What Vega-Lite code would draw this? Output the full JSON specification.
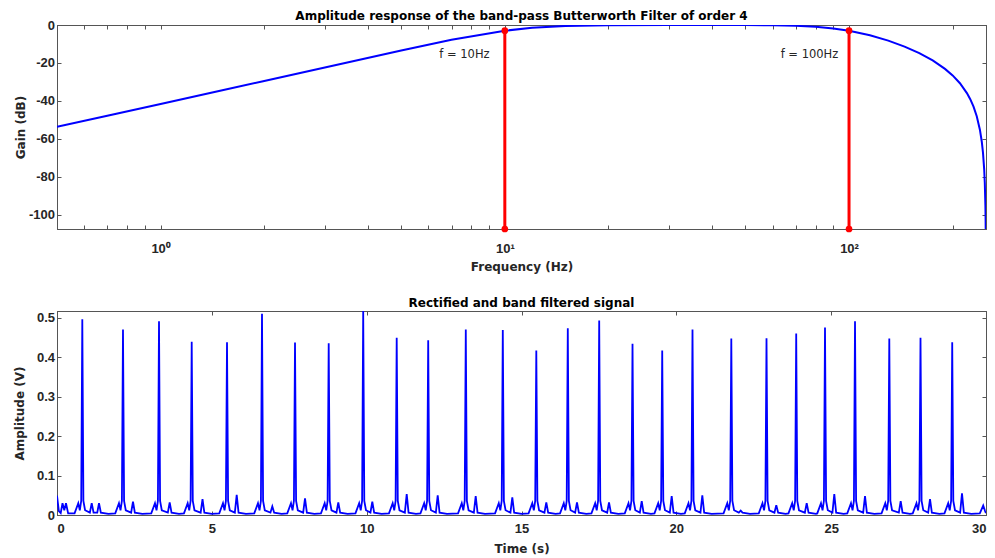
{
  "$schema": "https://vega.github.io/schema/vega-lite/v6.json",
  "autosize": {"type": "pad"},
  "padding": {"left": 12, "top": 9, "right": 5, "bottom": 5},
  "bounds": "flush",
  "spacing": 82,
  "config": {
    "view": {"stroke": "#555555", "strokeWidth": 1},
    "font": "DejaVu Sans",
    "axis": {
      "labelFont": "Liberation Sans", "labelFontWeight": "bold", "labelFontSize": 13, "labelColor": "#262626",
      "titleFont": "DejaVu Sans", "titleFontWeight": "bold", "titleFontSize": 12, "titleColor": "#262626",
      "domainColor": "#555555", "tickColor": "#555555", "tickSize": -4, "grid": false, "labelPadding": 6.5
    },
    "title": {"font": "DejaVu Sans", "fontWeight": "bold", "fontSize": 12, "color": "#000000"}
  },
  "vconcat": [
    {
      "title": {"text": "Amplitude response of the band-pass Butterworth Filter of order 4", "offset": -4},
      "width": 929,
      "height": 204,
      "layer": [
        {
          "data": {"values": [
            {"f": 0.5, "g": -53.63}, {"f": 0.7, "g": -47.79}, {"f": 1, "g": -41.58}, {"f": 1.5, "g": -34.52},
            {"f": 2, "g": -29.5}, {"f": 3, "g": -22.4}, {"f": 5, "g": -13.45}, {"f": 7, "g": -7.81},
            {"f": 10, "g": -3.01}, {"f": 12, "g": -1.48}, {"f": 15, "g": -0.49}, {"f": 20, "g": -0.07},
            {"f": 30, "g": 0}, {"f": 40, "g": 0}, {"f": 50, "g": -0.03}, {"f": 60, "g": -0.14},
            {"f": 70, "g": -0.42}, {"f": 80, "g": -0.95}, {"f": 90, "g": -1.81}, {"f": 100, "g": -3.01},
            {"f": 115, "g": -5.37}, {"f": 130, "g": -8.21}, {"f": 145, "g": -11.38}, {"f": 160, "g": -14.84},
            {"f": 175, "g": -18.69}, {"f": 190, "g": -23.12}, {"f": 200, "g": -26.58}, {"f": 210, "g": -30.69},
            {"f": 220, "g": -35.88}, {"f": 225, "g": -39.11}, {"f": 230, "g": -43.05}, {"f": 235, "g": -48.09},
            {"f": 240, "g": -55.17}, {"f": 243, "g": -61.38}, {"f": 245, "g": -67.23}, {"f": 247, "g": -76.11},
            {"f": 248, "g": -83.15}, {"f": 249, "g": -95.2}, {"f": 249.3, "g": -101.39}, {"f": 249.5, "g": -107.24},
            {"f": 249.7, "g": -116.11}, {"f": 249.8, "g": -123.15}
          ]},
          "mark": {"type": "line", "color": "#0000ff", "strokeWidth": 2, "clip": true},
          "encoding": {
            "x": {"field": "f", "type": "quantitative",
                  "scale": {"type": "log", "domain": [0.5, 250], "nice": false},
                  "axis": {"title": "Frequency (Hz)", "titleY": 37, "titleBaseline": "middle",
                           "values": [0.5, 0.6, 0.7, 0.8, 0.9, 1, 2, 3, 4, 5, 6, 7, 8, 9, 10, 20, 30, 40, 50, 60, 70, 80, 90, 100, 200],
                           "labelExpr": "datum.value == 1 ? '10⁰' : datum.value == 10 ? '10¹' : datum.value == 100 ? '10²' : ''",
                           "labelOverlap": false, "labelPadding": 17}},
            "y": {"field": "g", "type": "quantitative",
                  "scale": {"domain": [-107.5, 0], "nice": false, "zero": false},
                  "axis": {"title": "Gain (dB)", "titleX": -37, "titleBaseline": "middle",
                           "values": [0, -20, -40, -60, -80, -100],
                           "labelExpr": "datum.value < 0 ? '-' + format(-datum.value, 'd') : format(datum.value, 'd')"}}
          }
        },
        {
          "data": {"values": [{"f": 10, "g0": -107.5, "g1": -3.01}, {"f": 100, "g0": -107.5, "g1": -3.01}]},
          "mark": {"type": "rule", "color": "#ff0000", "strokeWidth": 3},
          "encoding": {
            "x": {"field": "f", "type": "quantitative",
                  "axis": {"orient": "top", "labels": false, "title": null,
                           "values": [0.5, 0.6, 0.7, 0.8, 0.9, 1, 2, 3, 4, 5, 6, 7, 8, 9, 10, 20, 30, 40, 50, 60, 70, 80, 90, 100, 200]}},
            "y": {"field": "g0", "type": "quantitative",
                  "axis": {"orient": "right", "labels": false, "title": null, "values": [0, -20, -40, -60, -80, -100]}},
            "y2": {"field": "g1"}
          }
        },
        {
          "data": {"values": [{"f": 10, "g": -107.5}, {"f": 10, "g": -3.01}, {"f": 100, "g": -107.5}, {"f": 100, "g": -3.01}]},
          "mark": {"type": "point", "filled": true, "color": "#ff0000", "size": 45, "opacity": 1},
          "encoding": {
            "x": {"field": "f", "type": "quantitative", "axis": null},
            "y": {"field": "g", "type": "quantitative", "axis": null}
          }
        },
        {
          "data": {"values": [{"f": 6.45, "g": -15.6, "label": "f = 10Hz"}, {"f": 63.3, "g": -15.6, "label": "f = 100Hz"}]},
          "mark": {"type": "text", "align": "left", "baseline": "middle", "fontSize": 11.5, "font": "DejaVu Sans", "color": "#262626"},
          "encoding": {
            "x": {"field": "f", "type": "quantitative", "axis": null},
            "y": {"field": "g", "type": "quantitative", "axis": null},
            "text": {"field": "label"}
          }
        }
      ],
      "resolve": {"axis": {"x": "independent", "y": "independent"}}
    },
    {
      "title": {"text": "Rectified and band filtered signal", "offset": 1},
      "width": 929,
      "height": 204,
      "data": {"values": [
        {"t": 0, "v": 0.049}, {"t": 0.06, "v": 0.01}, {"t": 0.12, "v": 0.005}, {"t": 0.178, "v": 0.03}, {"t": 0.235, "v": 0.012}, {"t": 0.29, "v": 0.03}, {"t": 0.36, "v": 0.004},
        {"t": 0.567, "v": 0.004}, {"t": 0.687, "v": 0.03}, {"t": 0.737, "v": 0.012}, {"t": 0.782, "v": 0.036}, {"t": 0.817, "v": 0.496}, {"t": 0.852, "v": 0.036}, {"t": 0.907, "v": 0.012}, {"t": 1.061, "v": 0.006}, {"t": 1.121, "v": 0.03}, {"t": 1.181, "v": 0.006}, {"t": 1.3, "v": 0.006}, {"t": 1.356, "v": 0.03}, {"t": 1.416, "v": 0.006}, {"t": 1.66, "v": 0.003},
        {"t": 1.881, "v": 0.004}, {"t": 2.001, "v": 0.03}, {"t": 2.051, "v": 0.012}, {"t": 2.096, "v": 0.036}, {"t": 2.131, "v": 0.47}, {"t": 2.166, "v": 0.036}, {"t": 2.221, "v": 0.012}, {"t": 2.394, "v": 0.006}, {"t": 2.454, "v": 0.034}, {"t": 2.514, "v": 0.006}, {"t": 2.754, "v": 0.003},
        {"t": 3.044, "v": 0.004}, {"t": 3.164, "v": 0.03}, {"t": 3.214, "v": 0.012}, {"t": 3.259, "v": 0.036}, {"t": 3.294, "v": 0.491}, {"t": 3.329, "v": 0.036}, {"t": 3.384, "v": 0.012}, {"t": 3.579, "v": 0.006}, {"t": 3.639, "v": 0.032}, {"t": 3.699, "v": 0.006}, {"t": 3.939, "v": 0.003},
        {"t": 4.1, "v": 0.004}, {"t": 4.22, "v": 0.03}, {"t": 4.27, "v": 0.012}, {"t": 4.315, "v": 0.036}, {"t": 4.35, "v": 0.439}, {"t": 4.385, "v": 0.036}, {"t": 4.44, "v": 0.012}, {"t": 4.639, "v": 0.006}, {"t": 4.699, "v": 0.04}, {"t": 4.759, "v": 0.006}, {"t": 4.999, "v": 0.003},
        {"t": 5.24, "v": 0.004}, {"t": 5.36, "v": 0.03}, {"t": 5.41, "v": 0.012}, {"t": 5.455, "v": 0.036}, {"t": 5.49, "v": 0.438}, {"t": 5.525, "v": 0.036}, {"t": 5.58, "v": 0.012}, {"t": 5.743, "v": 0.006}, {"t": 5.803, "v": 0.051}, {"t": 5.863, "v": 0.006}, {"t": 6.103, "v": 0.003},
        {"t": 6.37, "v": 0.004}, {"t": 6.49, "v": 0.03}, {"t": 6.54, "v": 0.012}, {"t": 6.585, "v": 0.036}, {"t": 6.62, "v": 0.51}, {"t": 6.655, "v": 0.036}, {"t": 6.71, "v": 0.012}, {"t": 6.893, "v": 0.006}, {"t": 6.953, "v": 0.022}, {"t": 7.013, "v": 0.006}, {"t": 7.253, "v": 0.003},
        {"t": 7.436, "v": 0.004}, {"t": 7.556, "v": 0.03}, {"t": 7.606, "v": 0.012}, {"t": 7.651, "v": 0.036}, {"t": 7.686, "v": 0.437}, {"t": 7.721, "v": 0.036}, {"t": 7.776, "v": 0.012}, {"t": 7.949, "v": 0.006}, {"t": 8.009, "v": 0.042}, {"t": 8.069, "v": 0.006}, {"t": 8.309, "v": 0.003},
        {"t": 8.524, "v": 0.004}, {"t": 8.644, "v": 0.03}, {"t": 8.694, "v": 0.012}, {"t": 8.739, "v": 0.036}, {"t": 8.774, "v": 0.435}, {"t": 8.809, "v": 0.036}, {"t": 8.864, "v": 0.012}, {"t": 9.024, "v": 0.006}, {"t": 9.084, "v": 0.032}, {"t": 9.144, "v": 0.006}, {"t": 9.384, "v": 0.003},
        {"t": 9.638, "v": 0.004}, {"t": 9.758, "v": 0.03}, {"t": 9.808, "v": 0.012}, {"t": 9.853, "v": 0.036}, {"t": 9.888, "v": 0.517}, {"t": 9.923, "v": 0.036}, {"t": 9.978, "v": 0.012}, {"t": 10.122, "v": 0.006}, {"t": 10.182, "v": 0.034}, {"t": 10.242, "v": 0.006}, {"t": 10.482, "v": 0.003},
        {"t": 10.72, "v": 0.004}, {"t": 10.84, "v": 0.03}, {"t": 10.89, "v": 0.012}, {"t": 10.935, "v": 0.036}, {"t": 10.97, "v": 0.449}, {"t": 11.005, "v": 0.036}, {"t": 11.06, "v": 0.012}, {"t": 11.233, "v": 0.006}, {"t": 11.293, "v": 0.053}, {"t": 11.353, "v": 0.006}, {"t": 11.593, "v": 0.003},
        {"t": 11.737, "v": 0.004}, {"t": 11.857, "v": 0.03}, {"t": 11.907, "v": 0.012}, {"t": 11.952, "v": 0.036}, {"t": 11.987, "v": 0.443}, {"t": 12.022, "v": 0.036}, {"t": 12.077, "v": 0.012}, {"t": 12.234, "v": 0.006}, {"t": 12.294, "v": 0.05}, {"t": 12.354, "v": 0.006}, {"t": 12.594, "v": 0.003},
        {"t": 12.951, "v": 0.004}, {"t": 13.071, "v": 0.03}, {"t": 13.121, "v": 0.012}, {"t": 13.166, "v": 0.036}, {"t": 13.201, "v": 0.47}, {"t": 13.236, "v": 0.036}, {"t": 13.291, "v": 0.012}, {"t": 13.461, "v": 0.006}, {"t": 13.521, "v": 0.048}, {"t": 13.581, "v": 0.006}, {"t": 13.821, "v": 0.003},
        {"t": 14.146, "v": 0.004}, {"t": 14.266, "v": 0.03}, {"t": 14.316, "v": 0.012}, {"t": 14.361, "v": 0.036}, {"t": 14.396, "v": 0.469}, {"t": 14.431, "v": 0.036}, {"t": 14.486, "v": 0.012}, {"t": 14.643, "v": 0.006}, {"t": 14.703, "v": 0.045}, {"t": 14.763, "v": 0.006}, {"t": 15.003, "v": 0.003},
        {"t": 15.228, "v": 0.004}, {"t": 15.348, "v": 0.03}, {"t": 15.398, "v": 0.012}, {"t": 15.443, "v": 0.036}, {"t": 15.478, "v": 0.417}, {"t": 15.513, "v": 0.036}, {"t": 15.568, "v": 0.012}, {"t": 15.741, "v": 0.006}, {"t": 15.801, "v": 0.032}, {"t": 15.861, "v": 0.006}, {"t": 16.101, "v": 0.003},
        {"t": 16.245, "v": 0.004}, {"t": 16.365, "v": 0.03}, {"t": 16.415, "v": 0.012}, {"t": 16.46, "v": 0.036}, {"t": 16.495, "v": 0.473}, {"t": 16.53, "v": 0.036}, {"t": 16.585, "v": 0.012}, {"t": 16.732, "v": 0.006}, {"t": 16.792, "v": 0.032}, {"t": 16.852, "v": 0.006}, {"t": 17.092, "v": 0.003},
        {"t": 17.259, "v": 0.004}, {"t": 17.379, "v": 0.03}, {"t": 17.429, "v": 0.012}, {"t": 17.474, "v": 0.036}, {"t": 17.509, "v": 0.493}, {"t": 17.544, "v": 0.036}, {"t": 17.599, "v": 0.012}, {"t": 17.766, "v": 0.006}, {"t": 17.826, "v": 0.032}, {"t": 17.886, "v": 0.006}, {"t": 18.126, "v": 0.003},
        {"t": 18.335, "v": 0.004}, {"t": 18.455, "v": 0.03}, {"t": 18.505, "v": 0.012}, {"t": 18.55, "v": 0.036}, {"t": 18.585, "v": 0.434}, {"t": 18.62, "v": 0.036}, {"t": 18.675, "v": 0.012}, {"t": 18.822, "v": 0.006}, {"t": 18.882, "v": 0.035}, {"t": 18.942, "v": 0.006}, {"t": 19.182, "v": 0.003},
        {"t": 19.294, "v": 0.004}, {"t": 19.414, "v": 0.03}, {"t": 19.464, "v": 0.012}, {"t": 19.509, "v": 0.036}, {"t": 19.544, "v": 0.417}, {"t": 19.579, "v": 0.036}, {"t": 19.634, "v": 0.012}, {"t": 19.79, "v": 0.006}, {"t": 19.85, "v": 0.048}, {"t": 19.91, "v": 0.006}, {"t": 20.15, "v": 0.003},
        {"t": 20.272, "v": 0.004}, {"t": 20.392, "v": 0.03}, {"t": 20.442, "v": 0.012}, {"t": 20.487, "v": 0.036}, {"t": 20.522, "v": 0.47}, {"t": 20.557, "v": 0.036}, {"t": 20.612, "v": 0.012}, {"t": 20.779, "v": 0.006}, {"t": 20.839, "v": 0.05}, {"t": 20.899, "v": 0.006}, {"t": 21.139, "v": 0.003},
        {"t": 21.525, "v": 0.004}, {"t": 21.645, "v": 0.03}, {"t": 21.695, "v": 0.012}, {"t": 21.74, "v": 0.036}, {"t": 21.775, "v": 0.447}, {"t": 21.81, "v": 0.036}, {"t": 21.865, "v": 0.012}, {"t": 22.018, "v": 0.006}, {"t": 22.078, "v": 0.011}, {"t": 22.138, "v": 0.006}, {"t": 22.378, "v": 0.003},
        {"t": 22.662, "v": 0.004}, {"t": 22.782, "v": 0.03}, {"t": 22.832, "v": 0.012}, {"t": 22.877, "v": 0.036}, {"t": 22.912, "v": 0.448}, {"t": 22.947, "v": 0.036}, {"t": 23.002, "v": 0.012}, {"t": 23.168, "v": 0.006}, {"t": 23.228, "v": 0.025}, {"t": 23.288, "v": 0.006}, {"t": 23.528, "v": 0.003},
        {"t": 23.621, "v": 0.004}, {"t": 23.741, "v": 0.03}, {"t": 23.791, "v": 0.012}, {"t": 23.836, "v": 0.036}, {"t": 23.871, "v": 0.46}, {"t": 23.906, "v": 0.036}, {"t": 23.961, "v": 0.012}, {"t": 24.15, "v": 0.006}, {"t": 24.21, "v": 0.03}, {"t": 24.27, "v": 0.006}, {"t": 24.51, "v": 0.003},
        {"t": 24.551, "v": 0.004}, {"t": 24.671, "v": 0.03}, {"t": 24.721, "v": 0.012}, {"t": 24.766, "v": 0.036}, {"t": 24.801, "v": 0.475}, {"t": 24.836, "v": 0.036}, {"t": 24.891, "v": 0.012}, {"t": 25.041, "v": 0.006}, {"t": 25.101, "v": 0.053}, {"t": 25.161, "v": 0.006}, {"t": 25.401, "v": 0.003},
        {"t": 25.52, "v": 0.004}, {"t": 25.64, "v": 0.03}, {"t": 25.69, "v": 0.012}, {"t": 25.735, "v": 0.036}, {"t": 25.77, "v": 0.491}, {"t": 25.805, "v": 0.036}, {"t": 25.86, "v": 0.012}, {"t": 26.033, "v": 0.006}, {"t": 26.093, "v": 0.048}, {"t": 26.153, "v": 0.006}, {"t": 26.393, "v": 0.003},
        {"t": 26.627, "v": 0.004}, {"t": 26.747, "v": 0.03}, {"t": 26.797, "v": 0.012}, {"t": 26.842, "v": 0.036}, {"t": 26.877, "v": 0.447}, {"t": 26.912, "v": 0.036}, {"t": 26.967, "v": 0.012}, {"t": 27.185, "v": 0.006}, {"t": 27.245, "v": 0.035}, {"t": 27.305, "v": 0.006}, {"t": 27.545, "v": 0.003},
        {"t": 27.635, "v": 0.004}, {"t": 27.755, "v": 0.03}, {"t": 27.805, "v": 0.012}, {"t": 27.85, "v": 0.036}, {"t": 27.885, "v": 0.449}, {"t": 27.92, "v": 0.036}, {"t": 27.975, "v": 0.012}, {"t": 28.132, "v": 0.006}, {"t": 28.192, "v": 0.04}, {"t": 28.252, "v": 0.006}, {"t": 28.492, "v": 0.003},
        {"t": 28.659, "v": 0.004}, {"t": 28.779, "v": 0.03}, {"t": 28.829, "v": 0.012}, {"t": 28.874, "v": 0.036}, {"t": 28.909, "v": 0.438}, {"t": 28.944, "v": 0.036}, {"t": 28.999, "v": 0.012}, {"t": 29.165, "v": 0.006}, {"t": 29.225, "v": 0.055}, {"t": 29.285, "v": 0.006}, {"t": 29.525, "v": 0.003},
        {"t": 29.8, "v": 0.004}, {"t": 29.91, "v": 0.024}, {"t": 29.97, "v": 0.01}, {"t": 30, "v": 0.005}
      ]},
      "layer": [
        {
          "mark": {"type": "line", "color": "#0000ff", "strokeWidth": 1.8, "clip": true},
          "encoding": {
            "x": {"field": "t", "type": "quantitative", "scale": {"domain": [0, 30], "nice": false},
                  "axis": {"title": "Time (s)", "titleY": 33, "titleBaseline": "middle", "values": [0, 5, 10, 15, 20, 25, 30], "labelPadding": 11}},
            "y": {"field": "v", "type": "quantitative", "scale": {"domain": [0, 0.517], "nice": false},
                  "axis": {"title": "Amplitude (V)", "titleX": -38, "titleBaseline": "middle",
                           "values": [0, 0.1, 0.2, 0.3, 0.4, 0.5], "format": ".1~f"}}
          }
        },
        {
          "mark": {"type": "line", "opacity": 0},
          "encoding": {
            "x": {"field": "t", "type": "quantitative",
                  "axis": {"orient": "top", "labels": false, "title": null, "values": [0, 5, 10, 15, 20, 25, 30]}},
            "y": {"field": "v", "type": "quantitative",
                  "axis": {"orient": "right", "labels": false, "title": null, "values": [0, 0.1, 0.2, 0.3, 0.4, 0.5]}}
          }
        }
      ],
      "resolve": {"axis": {"x": "independent", "y": "independent"}}
    }
  ]
}
